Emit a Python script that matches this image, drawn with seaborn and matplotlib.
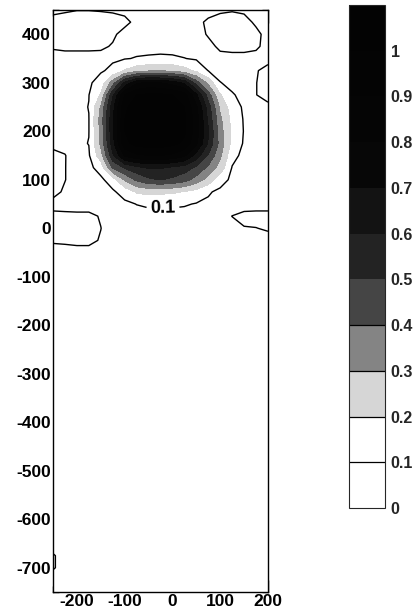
import numpy as np
import matplotlib
matplotlib.use("Agg")
import matplotlib.pyplot as plt
from matplotlib.ticker import MultipleLocator
import seaborn as sns

# ---------------- data ----------------
x_vals = [-250, -225, -200, -175, -150, -125, -100, -75, -50, -25,
          0, 25, 50, 75, 100, 125, 150, 175, 200]
y_vals = [-750, -725, -700, -675, -650, -400, -150, -100, -75, -50, -25,
          0, 25, 50, 75, 100, 125, 150, 175, 200, 225, 250, 275, 300,
          325, 350, 375, 400, 425, 450]

row_m750 = [0.05, 0.05, 0.05, 0.05, 0.05, 0.05, 0.05, 0.05, 0.05, 0.05, 0.05, 0.05, 0.05, 0.05, 0.05, 0.05, 0.05, 0.05, 0.05]
row_m725 = [0.05, 0.05, 0.05, 0.05, 0.05, 0.05, 0.05, 0.05, 0.05, 0.05, 0.05, 0.05, 0.05, 0.05, 0.05, 0.05, 0.05, 0.05, 0.05]
row_m700 = [0.11, 0.06, 0.05, 0.05, 0.05, 0.05, 0.05, 0.05, 0.05, 0.05, 0.05, 0.05, 0.05, 0.05, 0.05, 0.05, 0.05, 0.05, 0.05]
row_m675 = [0.11, 0.06, 0.05, 0.05, 0.05, 0.05, 0.05, 0.05, 0.05, 0.05, 0.05, 0.05, 0.05, 0.05, 0.05, 0.05, 0.05, 0.05, 0.05]
row_m650 = [0.05, 0.05, 0.05, 0.05, 0.05, 0.05, 0.05, 0.05, 0.05, 0.05, 0.05, 0.05, 0.05, 0.05, 0.05, 0.05, 0.05, 0.05, 0.05]
row_m400 = [0.05, 0.05, 0.05, 0.05, 0.05, 0.05, 0.05, 0.05, 0.05, 0.05, 0.05, 0.05, 0.05, 0.05, 0.05, 0.05, 0.05, 0.05, 0.05]
row_m150 = [0.05, 0.05, 0.05, 0.05, 0.05, 0.05, 0.05, 0.05, 0.05, 0.05, 0.05, 0.05, 0.05, 0.05, 0.05, 0.05, 0.05, 0.05, 0.05]
row_m100 = [0.055, 0.055, 0.055, 0.055, 0.055, 0.05, 0.05, 0.05, 0.05, 0.05, 0.05, 0.05, 0.05, 0.05, 0.05, 0.05, 0.05, 0.055, 0.055]
row_m75 = [0.06, 0.06, 0.06, 0.06, 0.06, 0.055, 0.055, 0.05, 0.05, 0.05, 0.05, 0.05, 0.05, 0.05, 0.055, 0.055, 0.055, 0.06, 0.06]
row_m50 = [0.07, 0.075, 0.08, 0.08, 0.075, 0.065, 0.06, 0.055, 0.055, 0.055, 0.055, 0.055, 0.055, 0.055, 0.06, 0.06, 0.06, 0.06, 0.06]
row_m25 = [0.11, 0.112, 0.115, 0.115, 0.095, 0.07, 0.06, 0.06, 0.06, 0.06, 0.06, 0.06, 0.06, 0.06, 0.065, 0.065, 0.07, 0.07, 0.07]
row_0 = [0.12, 0.12, 0.12, 0.115, 0.101, 0.07, 0.06, 0.06, 0.06, 0.06, 0.06, 0.06, 0.06, 0.065, 0.07, 0.08, 0.095, 0.098, 0.11]
row_25 = [0.115, 0.115, 0.115, 0.115, 0.095, 0.07, 0.065, 0.07, 0.075, 0.075, 0.075, 0.07, 0.065, 0.065, 0.07, 0.101, 0.125, 0.13, 0.13]
row_50 = [0.08, 0.075, 0.07, 0.07, 0.065, 0.065, 0.08, 0.102, 0.112, 0.115, 0.112, 0.108, 0.095, 0.085, 0.075, 0.065, 0.06, 0.06, 0.06]
row_75 = [0.12, 0.09, 0.07, 0.065, 0.07, 0.085, 0.14, 0.21, 0.23, 0.22, 0.215, 0.195, 0.16, 0.11, 0.08, 0.07, 0.07, 0.065, 0.065]
row_100 = [0.12, 0.102, 0.07, 0.07, 0.08, 0.15, 0.31, 0.42, 0.48, 0.505, 0.48, 0.44, 0.36, 0.26, 0.14, 0.08, 0.07, 0.07, 0.07]
row_125 = [0.12, 0.102, 0.07, 0.075, 0.14, 0.41, 0.51, 0.57, 0.61, 0.61, 0.58, 0.55, 0.48, 0.38, 0.26, 0.095, 0.075, 0.07, 0.07]
row_150 = [0.12, 0.102, 0.075, 0.09, 0.26, 0.58, 0.82, 0.88, 0.9, 0.9, 0.88, 0.82, 0.66, 0.49, 0.32, 0.13, 0.075, 0.075, 0.07]
row_175 = [0.08, 0.085, 0.085, 0.102, 0.32, 0.66, 0.97, 1.04, 1.05, 1.05, 1.03, 0.98, 0.82, 0.59, 0.36, 0.17, 0.09, 0.075, 0.07]
row_200 = [0.075, 0.08, 0.085, 0.098, 0.33, 0.68, 1.0, 1.07, 1.08, 1.08, 1.06, 1.02, 0.85, 0.61, 0.34, 0.18, 0.095, 0.075, 0.07]
row_225 = [0.07, 0.075, 0.08, 0.098, 0.34, 0.68, 1.0, 1.07, 1.08, 1.08, 1.06, 1.02, 0.85, 0.58, 0.32, 0.17, 0.092, 0.075, 0.075]
row_250 = [0.07, 0.075, 0.08, 0.102, 0.31, 0.66, 0.98, 1.05, 1.07, 1.07, 1.05, 1.0, 0.82, 0.55, 0.28, 0.15, 0.085, 0.08, 0.08]
row_275 = [0.07, 0.07, 0.075, 0.098, 0.21, 0.58, 0.9, 1.0, 1.02, 1.02, 1.0, 0.95, 0.72, 0.45, 0.21, 0.105, 0.085, 0.098, 0.13]
row_300 = [0.07, 0.07, 0.075, 0.085, 0.14, 0.35, 0.62, 0.78, 0.82, 0.8, 0.76, 0.68, 0.45, 0.27, 0.102, 0.085, 0.085, 0.098, 0.13]
row_325 = [0.07, 0.07, 0.075, 0.08, 0.09, 0.12, 0.21, 0.26, 0.285, 0.29, 0.28, 0.24, 0.18, 0.098, 0.08, 0.08, 0.085, 0.095, 0.12]
row_350 = [0.07, 0.075, 0.075, 0.075, 0.08, 0.088, 0.095, 0.105, 0.112, 0.117, 0.113, 0.102, 0.09, 0.08, 0.085, 0.085, 0.085, 0.08, 0.08]
row_375 = [0.11, 0.115, 0.115, 0.115, 0.11, 0.095, 0.08, 0.075, 0.07, 0.07, 0.07, 0.07, 0.075, 0.085, 0.11, 0.115, 0.115, 0.11, 0.08]
row_400 = [0.13, 0.135, 0.14, 0.135, 0.125, 0.11, 0.08, 0.065, 0.06, 0.06, 0.06, 0.065, 0.08, 0.105, 0.125, 0.13, 0.13, 0.115, 0.08]
row_425 = [0.13, 0.135, 0.14, 0.14, 0.135, 0.125, 0.115, 0.085, 0.07, 0.065, 0.065, 0.07, 0.085, 0.11, 0.125, 0.13, 0.12, 0.09, 0.08]
row_450 = [0.08, 0.09, 0.098, 0.098, 0.095, 0.092, 0.085, 0.07, 0.06, 0.06, 0.06, 0.06, 0.07, 0.08, 0.09, 0.095, 0.09, 0.08, 0.07]

levels = [0.0, 0.1, 0.2, 0.3, 0.4, 0.5, 0.6, 0.7, 0.8, 0.9, 1.0, 1.1]
line_levels = [0.1]
cbar_line_levels = [0.1, 0.2, 0.3, 0.4]
cbar_ticks = [0, 0.1, 0.2, 0.3, 0.4, 0.5, 0.6, 0.7, 0.8, 0.9, 1.0]
cbar_labels = ["0", "0.1", "0.2", "0.3", "0.4", "0.5", "0.6", "0.7", "0.8", "0.9", "1"]
x_ticks = [-200, -100, 0, 100, 200]
y_ticks = [-700, -600, -500, -400, -300, -200, -100, 0, 100, 200, 300, 400]

# ---------------- style ----------------
sns.set_style("ticks")
plt.rcParams['font.family'] = ['Liberation Sans', 'DejaVu Sans']
plt.rcParams['axes.unicode_minus'] = False

band_colors = sns.color_palette(["#ffffff", "#ffffff", "#d6d6d6", "#848484",
                                 "#454545", "#232323", "#131313", "#070707",
                                 "#050505", "#040404", "#030303"])

Z = np.array([row_m750, row_m725, row_m700, row_m675, row_m650, row_m400,
              row_m150, row_m100, row_m75, row_m50, row_m25, row_0, row_25,
              row_50, row_75, row_100, row_125, row_150, row_175, row_200,
              row_225, row_250, row_275, row_300, row_325, row_350, row_375,
              row_400, row_425, row_450])
X, Y = np.meshgrid(x_vals, y_vals)

fig = plt.figure(figsize=(4.19, 6.15), dpi=100)
ax = fig.add_axes([0.1265, 0.0374, 0.513, 0.9463])

cf = ax.contourf(X, Y, Z, levels=levels, colors=band_colors)
cs = ax.contour(X, Y, Z, levels=line_levels, colors="black", linewidths=1.0)
ax.clabel(cs, fmt={0.1: "0.1"}, manual=[(-20, 45)], inline=True,
          inline_spacing=4, fontsize=13)
for t in cs.labelTexts:
    t.set_fontweight("bold")

ax.set_xlim(-250, 200)
ax.set_ylim(-750, 450)
ax.set_xticks(x_ticks)
ax.set_yticks(y_ticks)
ax.xaxis.set_minor_locator(MultipleLocator(50))
ax.yaxis.set_minor_locator(MultipleLocator(50))
ax.tick_params(which="both", direction="in", top=True, right=True,
               labelsize=12.5, width=1.0, colors="black", pad=1.5)
ax.tick_params(which="major", length=9)
ax.tick_params(which="minor", length=4.5)
for lab in ax.get_xticklabels() + ax.get_yticklabels():
    lab.set_fontweight("bold")
for sp in ax.spines.values():
    sp.set_linewidth(1.0)
    sp.set_color("black")

cax = fig.add_axes([0.833, 0.174, 0.086, 0.818])
cbar = fig.colorbar(cf, cax=cax, ticks=cbar_ticks)
cbar.set_ticklabels(cbar_labels)
cbar.outline.set_linewidth(0.8)
for lv in cbar_line_levels:
    cbar.ax.axhline(lv, color="black", linewidth=0.9)
cbar.ax.tick_params(length=0, labelsize=11.5, pad=4)
for lab in cbar.ax.get_yticklabels():
    lab.set_fontweight("bold")

fig.savefig("out.png", dpi=100)
